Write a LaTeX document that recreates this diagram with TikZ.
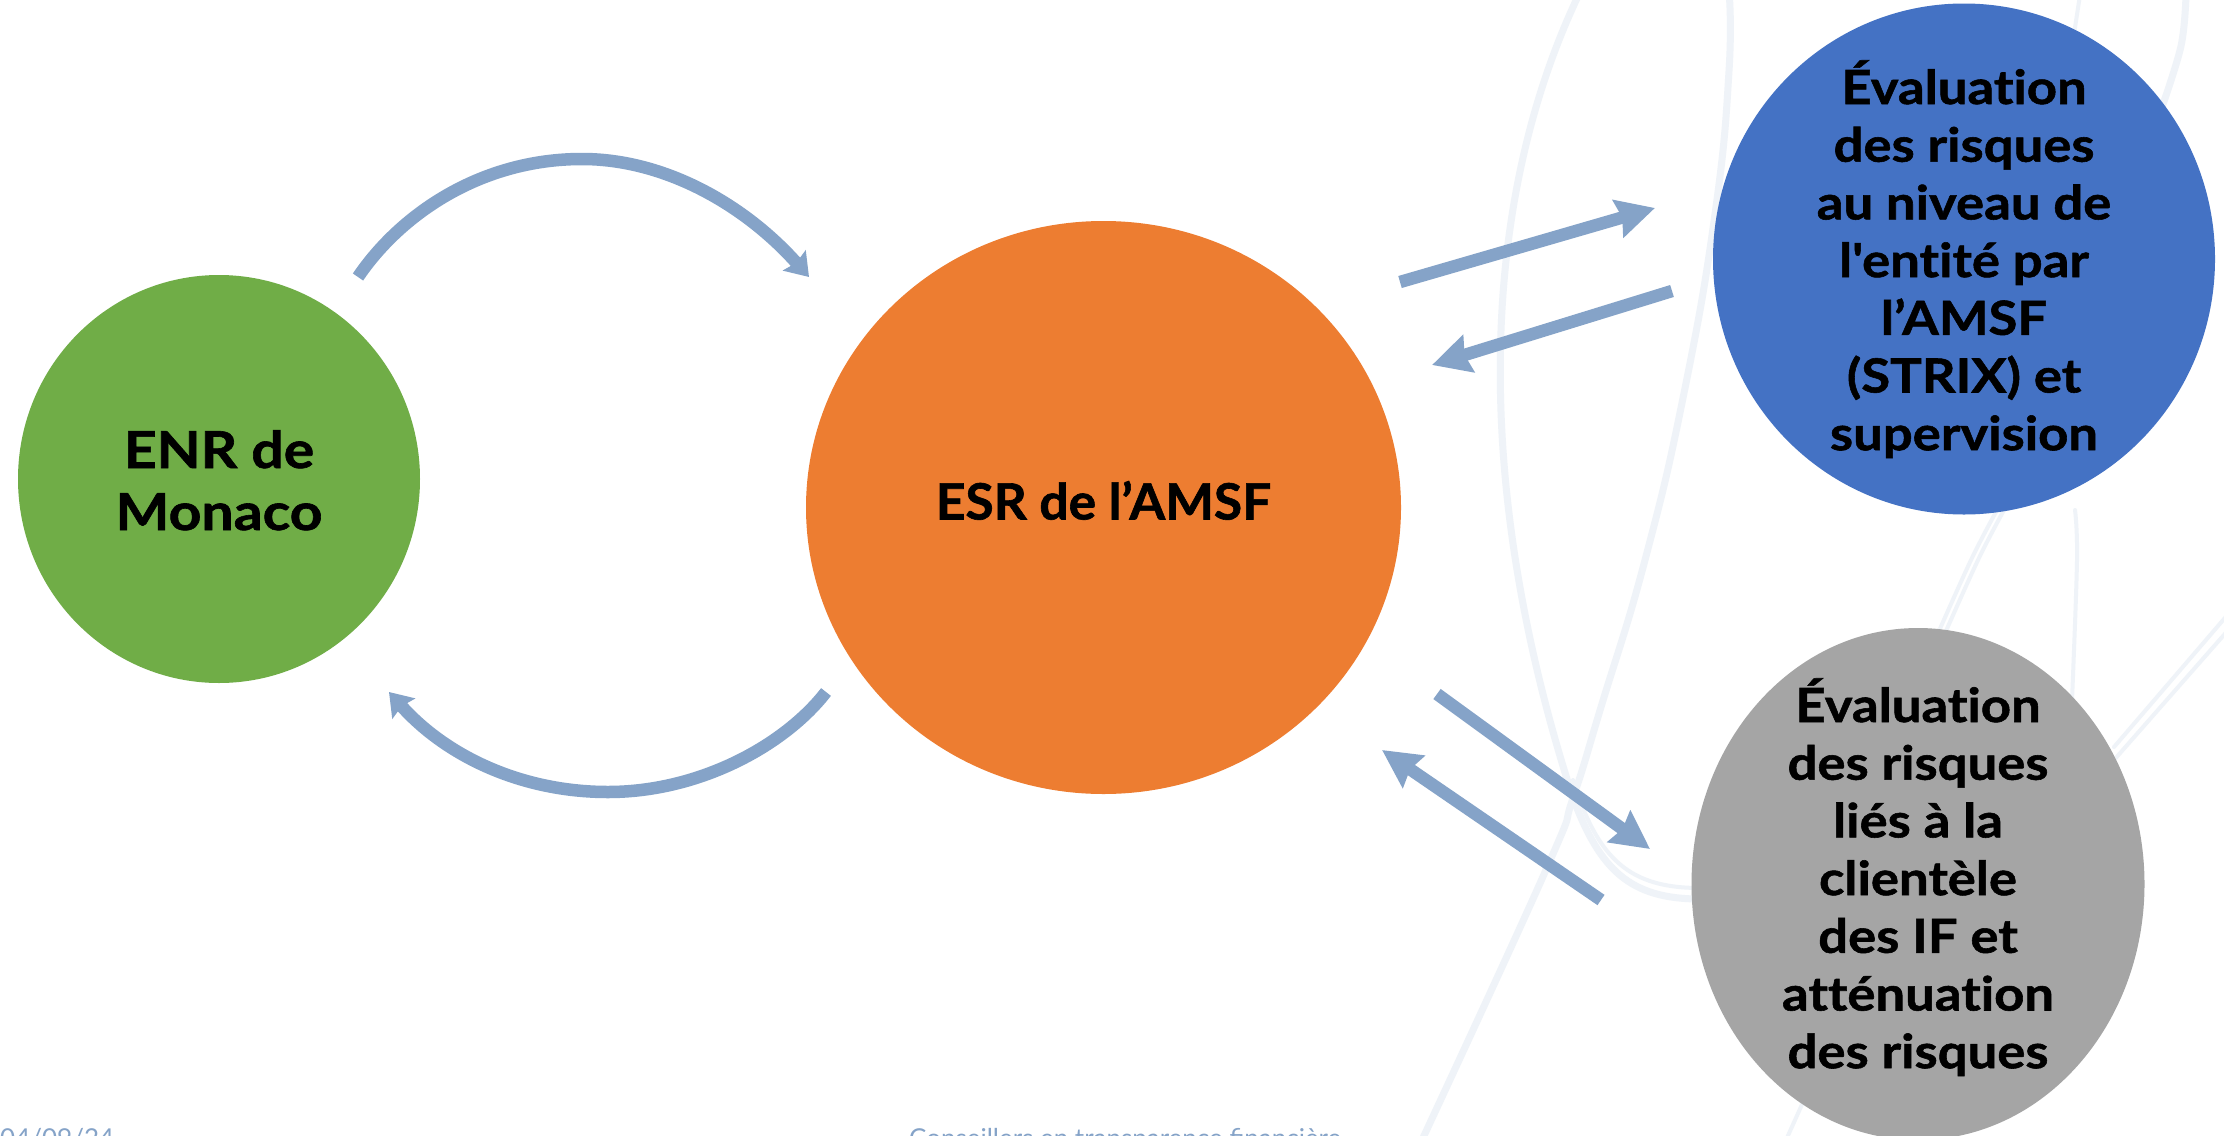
\documentclass[tikz,border=0pt]{standalone}
\usepackage{fontspec}
\setmainfont{Lato}
\newfontfamily\ovalfont[Ligatures=NoCommon,FakeStretch=1.12,BoldFeatures={FakeBold=1.2}]{Lato}
\newfontfamily\ovalcaps[Ligatures=NoCommon,FakeStretch=1.03,BoldFeatures={FakeBold=1.2}]{Lato}
\usetikzlibrary{shapes.geometric,arrows.meta}
\definecolor{flecheblue}{HTML}{85A3C8}
\definecolor{fondcourbe}{HTML}{EFF3F8}
\definecolor{vertc}{HTML}{70AD47}
\definecolor{orangec}{HTML}{ED7D31}
\definecolor{bleuc}{HTML}{4472C4}
\definecolor{grisc}{HTML}{A5A5A5}
\newcommand\ovaltext[5]{\makebox[0pt]{\raisebox{#1}[0pt][0pt]{\parbox[t]{600pt}{\centering#2\bfseries\fontsize{#3}{#4}\selectfont #5}}}}
\tikzset{
  oval/.style={shape=ellipse,inner sep=0pt,outer sep=0pt,text=black},
  fleche/.style={draw=flecheblue,line width=12.5pt,-{Stealth[length=38pt,width=38pt,inset=4pt]}},
  flechearc/.style={draw=flecheblue,line width=12.5pt,-{Stealth[length=22pt,width=30pt,inset=3pt]}},
  courbe/.style={draw=fondcourbe,line width=7pt,line cap=round},
  courbefine/.style={draw=fondcourbe,line width=4pt,line cap=round},
  pied/.style={text=flecheblue,font=\fontsize{26}{30}\selectfont,inner sep=0pt,anchor=base west}
}
\begin{document}
\begin{tikzpicture}[x=1pt,y=-1pt]
\useasboundingbox (0,0) rectangle (2224,1135);
\clip (0,0) rectangle (2224,1135);
\fill[white] (0,0) rectangle (2224,1135);
% background swooshes
\draw[courbe] (1580,-8) .. controls (1480,200) and (1470,480) .. (1573,798) .. controls (1600,870) and (1630,899) .. (1700,899);
\draw[courbefine] (1573,780) .. controls (1598,860) and (1630,888) .. (1700,888);
\draw[courbe] plot[smooth,tension=0.8] coordinates {(1729,-8) (1729,71) (1715,214) (1684,393) (1645,560) (1601,707) (1573,798) (1545,872) (1422,1140)};
\draw[courbefine] plot[smooth,tension=0.6] coordinates {(2080,-5) (2070,60)};
\draw[courbe] plot[smooth,tension=0.6] coordinates {(2186,-5) (2181,46) (2161,110)};
\draw[courbefine] plot[smooth,tension=0.6] coordinates {(1997,510) (1971,560) (1935,640)};
\draw[courbefine] plot[smooth,tension=0.6] coordinates {(2004,510) (1978,560) (1942,640)};
\draw[courbefine] plot[smooth,tension=0.6] coordinates {(2075,510) (2077,560) (2072,700)};
\draw[courbefine] plot[smooth,tension=0.6] coordinates {(2230,612) (2114,747)};
\draw[courbefine] plot[smooth,tension=0.6] coordinates {(2230,628) (2114,760)};
\draw[courbefine] plot[smooth,tension=0.6] coordinates {(1804,1100) (1786,1140)};
% ovals
\node[oval,fill=vertc,minimum width=402pt,minimum height=408pt] (enr) at (219,479)
  {\ovaltext{11pt}{\ovalfont}{51}{62}{ENR de\\Monaco}};
\node[oval,fill=orangec,minimum width=595pt,minimum height=573pt] (esr) at (1103.5,507.5)
  {\ovaltext{-12pt}{\ovalcaps}{50}{62}{ESR de l’AMSF}};
\node[oval,fill=bleuc,minimum width=502pt,minimum height=511pt] (eval) at (1964,259)
  {\ovaltext{155pt}{\ovalfont}{47}{57.7}{Évaluation\\des risques\\au niveau de\\l'entité par\\l’AMSF\\(STRIX) et\\supervision}};
\node[oval,fill=grisc,minimum width=453pt,minimum height=512pt] (clt) at (1918,884)
  {\ovaltext{162pt}{\ovalfont}{47}{57.7}{Évaluation\\des risques\\liés à la\\clientèle\\des IF et\\atténuation\\des risques}};
% connector ends
\coordinate (a1s) at (1400,282); \coordinate (a1e) at (1655,208);
\coordinate (a2s) at (1672,291); \coordinate (a2e) at (1432,365);
\coordinate (a3s) at (1437,694); \coordinate (a3e) at (1650,849);
\coordinate (a4s) at (1601,900); \coordinate (a4e) at (1382,750);
\coordinate (c1s) at (358,277); \coordinate (c1p) at (582,159); \coordinate (c1e) at (809,277);
\coordinate (c2s) at (826,692); \coordinate (c2p) at (608,792); \coordinate (c2e) at (389,692);
\draw[flechearc] (c1s) .. controls (400,215) and (480,159) .. (c1p) .. controls (665,159) and (745,205) .. (c1e);
\draw[flechearc] (c2s) .. controls (785,745) and (700,792) .. (c2p) .. controls (520,792) and (445,755) .. (c2e);
\draw[fleche] (a1s) -- (a1e);
\draw[fleche] (a2s) -- (a2e);
\draw[fleche] (a3s) -- (a3e);
\draw[fleche] (a4s) -- (a4e);
% footer, cut by the page edge as in the source
\node[pied] (date) at (0,1147) {04/09/24};
\node[pied] (titre) at (909,1147) {Conseillers en transparence financière};
\end{tikzpicture}
\end{document}
